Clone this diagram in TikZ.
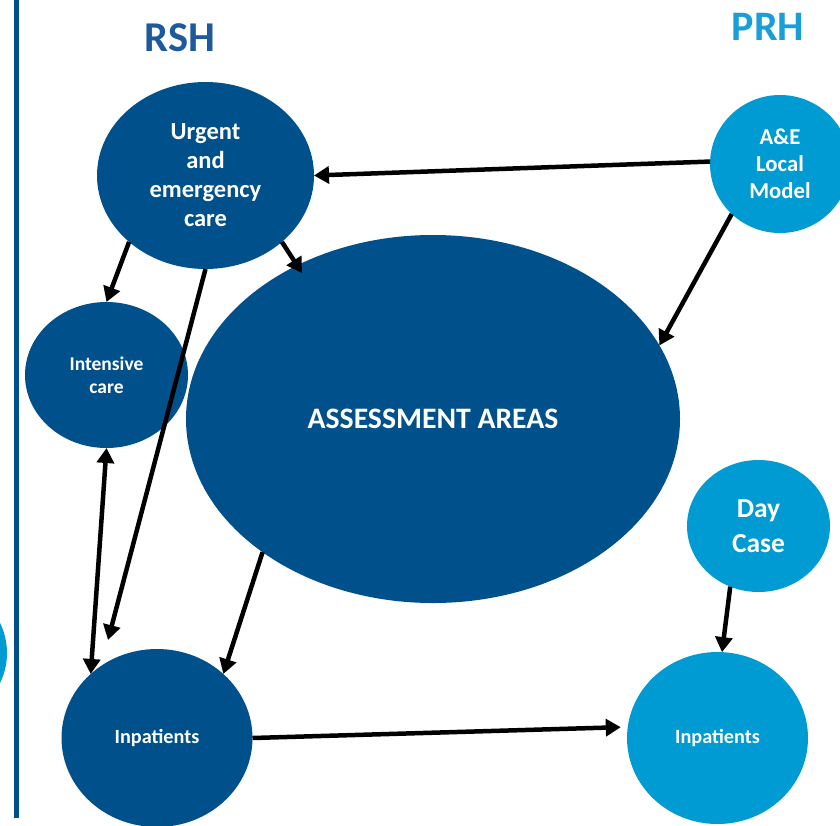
\documentclass[tikz,border=0pt]{standalone}
\usepackage{fontspec}
\setmainfont{Carlito}
\usetikzlibrary{shapes.geometric,arrows.meta}
\definecolor{dblue}{RGB}{0,80,140}
\definecolor{lblue}{RGB}{0,155,210}
\definecolor{rshtxt}{RGB}{30,90,155}
\definecolor{prhtxt}{RGB}{25,158,215}
\begin{document}
\begin{tikzpicture}[x=1pt,y=-1pt,
  blob/.style={ellipse, inner sep=0pt, outer sep=0pt, text=white, align=center},
  dk/.style={blob, fill=dblue},
  lt/.style={blob, fill=lblue},
  arr/.style={line width=4.5pt, -{Triangle[length=15pt,width=17pt]}},
  darr/.style={line width=4.5pt, {Triangle[length=15pt,width=17pt]}-{Triangle[length=15pt,width=17pt]}}]
\useasboundingbox (0,0) rectangle (840,825);
\begin{scope}
\clip (0,0) rectangle (840,825);
\fill[dblue] (13.5,0) rectangle (18.5,818);
\fill[lblue] (-61,653) circle[radius=68];
\node[dk, minimum width=217pt, minimum height=187pt, font=\bfseries\fontsize{24.5}{29}\selectfont] (urg) at (205.5,175.5) {Urgent\\and\\emergency\\care};
\node[lt, minimum width=140pt, minimum height=138pt, font=\bfseries\fontsize{22.7}{27}\selectfont] (ae) at (780,164) {A\&E\\Local\\Model};
\node[dk, minimum width=163pt, minimum height=146pt, font=\bfseries\fontsize{19.5}{23}\selectfont] (ic) at (106.5,375) {Intensive\\care};
\node[dk, minimum width=494pt, minimum height=368pt, font=\bfseries\fontsize{29.7}{35}\selectfont] (aa) at (433,419) {ASSESSMENT AREAS};
\node[lt, minimum width=143pt, minimum height=132pt, font=\bfseries\fontsize{27.5}{35}\selectfont] (dc) at (758.5,526) {Day\\Case};
\node[dk, minimum width=191pt, minimum height=178pt, font=\bfseries\fontsize{20.2}{24}\selectfont] (ipr) at (157,738) {Inpatients};
\node[lt, minimum width=181pt, minimum height=172pt, font=\bfseries\fontsize{20.2}{24}\selectfont] (ipp) at (717.5,738) {Inpatients};
\end{scope}
\node[text=rshtxt, font=\bfseries\fontsize{42.5}{48}\selectfont] (rsh) at (180,38) {RSH};
\node[text=prhtxt, font=\bfseries\fontsize{42}{48}\selectfont] (prh) at (768,27) {PRH};
\coordinate (t4) at (302,273);
\coordinate (t5) at (108,640);
\draw[arr] (ae.178) -- (urg.0);
\draw[arr] (ae.226) -- (aa.18);
\draw[arr] (urg.221) -- (ic.90);
\draw[arr] (urg.-41) -- (t4);
\draw[arr] (urg.270) -- (t5);
\draw[darr] (ic.270) -- (ipr.136);
\draw[arr] (aa.218) -- (ipr.44);
\draw[arr, shorten >=7pt] (ipr.0) -- (ipp.173);
\draw[arr] (dc.245) -- (ipp.87);
\end{tikzpicture}
\end{document}
